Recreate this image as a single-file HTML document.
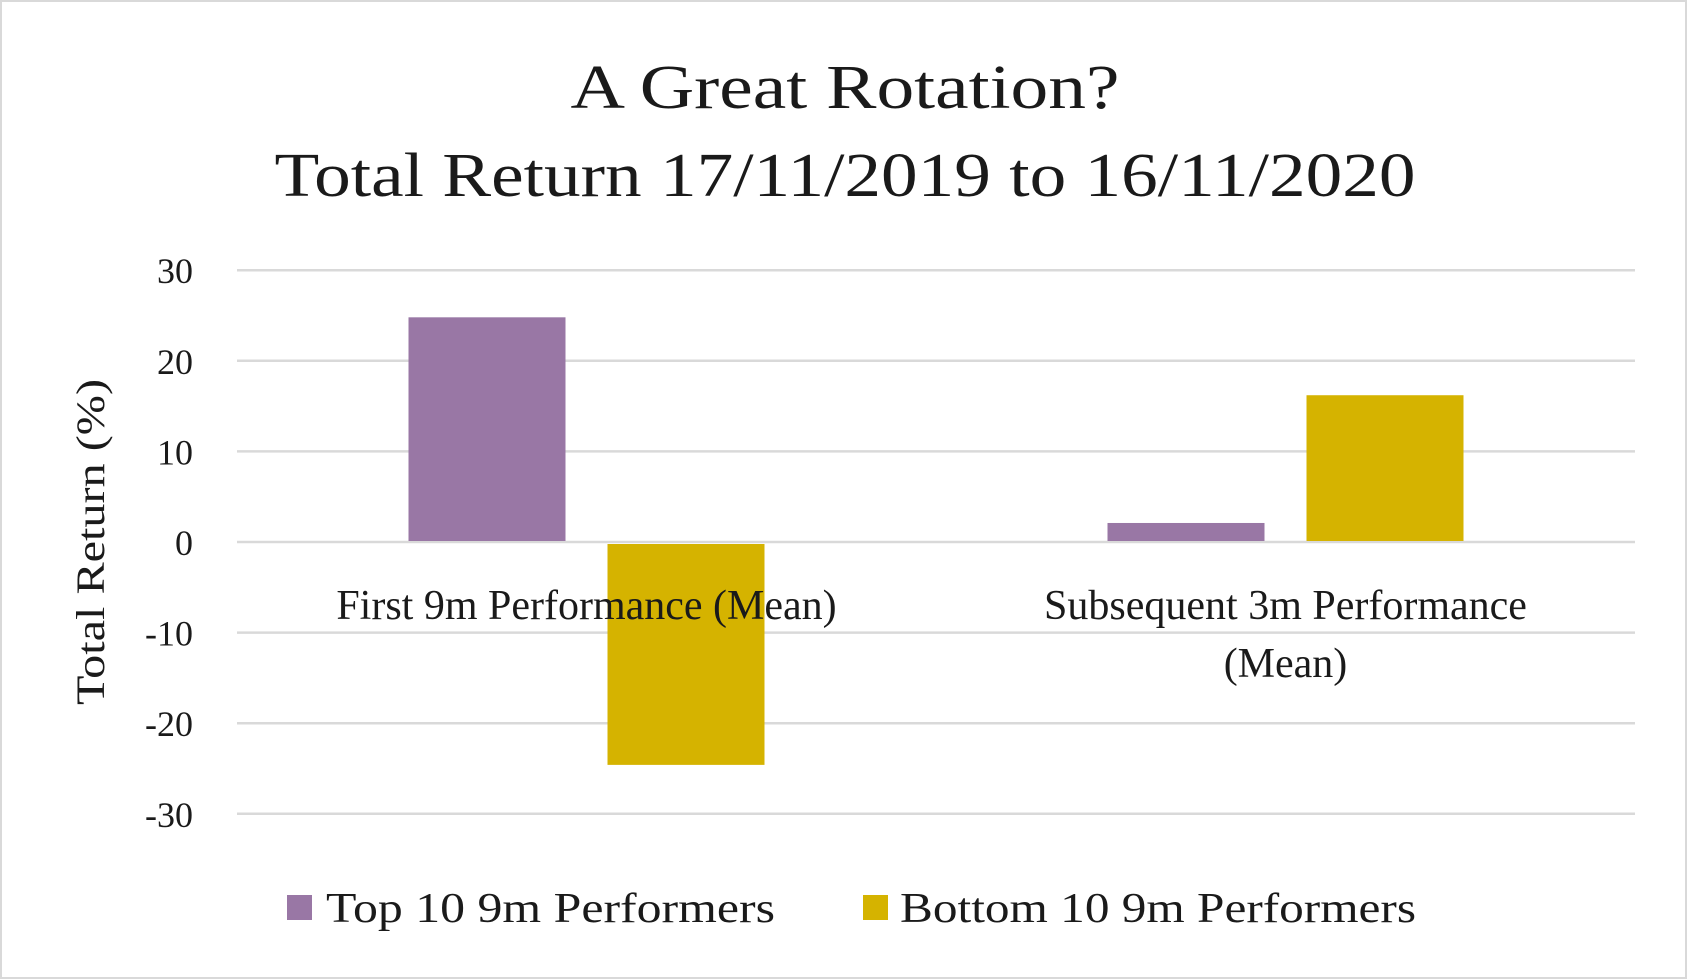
<!DOCTYPE html>
<html><head><meta charset="utf-8"><style>
html,body{margin:0;padding:0;background:#fff}
svg{display:block}
text{font-family:"Liberation Serif",serif;fill:#1a1a1a}
</style></head><body>
<svg id="chart" width="1687" height="979" viewBox="0 0 1687 979">
<rect x="1" y="1" width="1685" height="977" fill="#fff" stroke="#d9d9d9" stroke-width="2"/>
<text x="845" y="108" text-anchor="middle" font-size="62" textLength="549" lengthAdjust="spacingAndGlyphs">A Great Rotation?</text>
<text x="845" y="196" text-anchor="middle" font-size="62" textLength="1141" lengthAdjust="spacingAndGlyphs">Total Return 17/11/2019 to 16/11/2020</text>
<text transform="translate(104,542) rotate(-90)" text-anchor="middle" font-size="40" textLength="326" lengthAdjust="spacingAndGlyphs">Total Return (%)</text>
<g id="grid"></g><g id="bars"></g><g id="labels"></g>
<rect x="287" y="895" width="25" height="25" fill="#9977a5"/>
<text x="326" y="922" font-size="42" textLength="449" lengthAdjust="spacingAndGlyphs">Top 10 9m Performers</text>
<rect x="863" y="895" width="25" height="25" fill="#d5b300"/>
<text x="900" y="922" font-size="42" textLength="516" lengthAdjust="spacingAndGlyphs">Bottom 10 9m Performers</text>
</svg>
<script>
const categories=[["First 9m Performance (Mean)"],["Subsequent 3m Performance","(Mean)"]];
const topValues=[24.8,2.1];
const bottomValues=[-24.6,16.2];
const yTicks=[30,20,10,0,-10,-20,-30];
const NS="http://www.w3.org/2000/svg";
const X0=237,X1=1635,Y0=542,PER=9.06;
function y(v){return Y0-v*PER;}
function catX(i){return X0+(X1-X0)/categories.length*(i+0.5);}
function mk(t,a,p){const e=document.createElementNS(NS,t);for(const k in a)e.setAttribute(k,a[k]);p.appendChild(e);return e;}
const grid=document.getElementById('grid'),bars=document.getElementById('bars'),labels=document.getElementById('labels');
yTicks.forEach(v=>{
 const l=mk('line',{x1:X0,x2:X1,y1:y(v),y2:y(v),stroke:'#d9d9d9','stroke-width':2.5},grid);
 
 
 const t=mk('text',{x:193,y:y(v)+13,'text-anchor':'end','font-size':36},grid);
 t.textContent=String(v);
 
 
});
const BW=157,GAP=42;
categories.forEach((c,i)=>{
 const cx=catX(i);
 const series=[[topValues[i],'#9977a5',cx-GAP/2-BW,'top10'],[bottomValues[i],'#d5b300',cx+GAP/2,'bottom10']];
 series.forEach(s=>{
  const v=s[0];const top=v>=0?y(v):y(0)+2;const h=Math.abs(y(v)-y(0))-(v>=0?1:2);
  const r=mk('rect',{x:s[2],y:top,width:BW,height:Math.max(0,h),fill:s[1]},bars);
  
  
 });
});
categories.forEach((c,i)=>{
 c.forEach((line,j)=>{
  const t=mk('text',{x:catX(i),y:619+j*58,'text-anchor':'middle','font-size':42},labels);
  t.textContent=line;
  
  
 });
});
</script>
</body></html>
